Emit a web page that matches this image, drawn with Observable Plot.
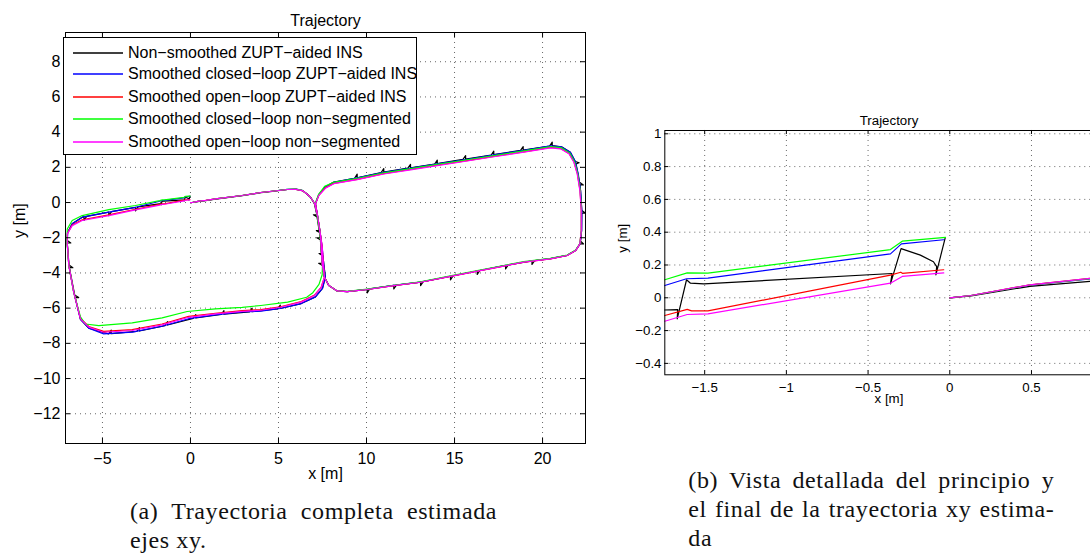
<!DOCTYPE html>
<html>
<head>
<meta charset="utf-8">
<script src="https://cdn.jsdelivr.net/npm/d3@7"></script>
<script src="https://cdn.jsdelivr.net/npm/@observablehq/plot@0.6"></script>
<style>
  html, body { margin: 0; padding: 0; background: #fff; overflow: hidden; width: 1090px; height: 553px; }
  #fig { position: relative; width: 1090px; height: 553px; overflow: hidden; }
  .panel { position: absolute; overflow: visible; }
  .panel svg { max-width: none !important; }
  .legend { position: absolute; left: 63px; top: 37px; width: 352px; height: 116px; border: 1px solid #000; background: #fff;
            font-family: "Liberation Sans", Arial, sans-serif; font-size: 16px; color: #000; }
  .legend .row { position: absolute; left: 0; height: 22px; line-height: 22px; white-space: nowrap; }
  .legend svg.sw { position: absolute; left: 9px; top: 7px; width: 50px; height: 8px; overflow: visible; }
  .legend .lb { position: absolute; left: 64px; top: 0; }
  .caption { position: absolute; font-family: "Liberation Serif", "Times New Roman", serif; font-size: 24px; letter-spacing: 0.6px; color: #111; }
  .caption .ln { height: 29px; line-height: 29px; white-space: nowrap; }
  .caption .full { text-align: justify; text-align-last: justify; }
</style>
</head>
<body>
<div id="fig"></div>
<script>
// Series names and colours (legend order = drawing order)
const seriesNames = [
  "Non\u2212smoothed ZUPT\u2212aided INS",
  "Smoothed closed\u2212loop ZUPT\u2212aided INS",
  "Smoothed open\u2212loop ZUPT\u2212aided INS",
  "Smoothed closed\u2212loop non\u2212segmented",
  "Smoothed open\u2212loop non\u2212segmented"
];
const seriesColors = ["#000000", "#0000ff", "#ff0000", "#00ff00", "#ff00ff"];

// Tick values of both panels
const fullXTicks = [-5, 0, 5, 10, 15, 20];
const fullYTicks = [8, 6, 4, 2, 0, -2, -4, -6, -8, -10, -12];
const detailXTicks = [-1.5, -1, -0.5, 0, 0.5];
const detailYTicks = [1, 0.8, 0.6, 0.4, 0.2, 0, -0.2, -0.4];

// Estimated xy trajectories [x, y] in metres, in walking order
const nonSmoothed = [[0,0],[0.13,0.012],[0.49,0.07],[0.86,0.1],[1.42,0.19],[2.94,0.39],[4.0,0.56],[4.64,0.63],[5.5,0.74],[6.0,0.75],[6.35,0.68],[6.6,0.5],[6.82,0.3],[7.04,-0.07],
  [7.18,-0.7],[6.98,-0.7],[7.19,-0.82],[7.37,-2.0],[7.17,-2.0],[7.38,-2.12],[7.48,-3.45],[7.28,-3.45],[7.5,-3.57],
  [7.6,-4.2],[7.86,-4.72],[8.33,-5.02],[8.9,-5.06],
  [10.04,-4.93],[10.04,-5.13],[10.18,-4.91],[11.55,-4.71],[11.55,-4.91],[11.7,-4.69],[13.07,-4.52],[13.07,-4.72],[13.22,-4.49],
  [14.77,-4.19],[14.77,-4.39],[14.92,-4.16],[16.29,-3.89],[16.29,-4.09],[16.44,-3.86],[17.9,-3.57],[17.9,-3.77],[18.05,-3.54],
  [19.4,-3.32],[19.4,-3.52],[19.55,-3.3],[20.45,-3.19],[21.4,-3.0],[21.88,-2.72],
  [22.13,-2.35],[22.33,-2.35],[22.16,-2.2],[22.22,-1.59],[22.23,-0.6],[22.43,-0.6],[22.23,-0.45],[22.16,0.68],
  [22.12,1.0],[22.32,1.0],[22.1,1.15],[21.9,2.2],[22.08,2.26],[21.86,2.33],[21.58,2.85],[21.08,3.17],
  [20.55,3.23],[20.55,3.43],[20.4,3.21],[18.9,2.98],[18.9,3.18],[18.75,2.96],[17.23,2.72],[17.23,2.92],[17.08,2.7],
  [15.63,2.47],[15.63,2.67],[15.48,2.45],[14.02,2.21],[14.02,2.41],[13.87,2.19],[12.5,1.97],[12.5,2.17],[12.35,1.95],
  [10.98,1.73],[10.98,1.93],[10.83,1.7],[9.47,1.41],[9.47,1.61],[9.32,1.38],
  [8.14,1.16],[7.67,0.9],[7.29,0.45],[7.1,-0.07],[7.2,-0.64],
  [7.35,-1.6],[7.15,-1.6],[7.37,-1.72],[7.5,-2.9],[7.3,-2.9],[7.52,-3.02],
  [7.66,-4.24],[7.5,-4.88],[7.1,-5.36],[6.29,-5.74],
  [5.1,-6.02],[5.1,-5.82],[4.95,-6.04],[3.5,-6.2],[3.5,-6.0],[3.35,-6.21],[1.9,-6.34],[1.9,-6.14],[1.75,-6.36],
  [0.3,-6.56],[0.3,-6.36],[0.15,-6.58],[-1.3,-6.96],[-1.3,-6.76],[-1.45,-6.99],[-2.9,-7.3],[-2.9,-7.1],[-3.05,-7.32],
  [-4.5,-7.45],[-4.5,-7.25],[-4.65,-7.46],[-5.78,-7.14],[-6.25,-6.64],
  [-6.55,-5.4],[-6.35,-5.4],[-6.58,-5.25],[-6.88,-3.7],[-6.68,-3.7],[-6.9,-3.55],[-7.0,-2.3],[-6.8,-2.3],[-7.0,-2.15],
  [-6.98,-1.72],[-6.72,-1.21],[-6.15,-0.83],
  [-6.05,-0.81],[-6.05,-1.01],[-5.9,-0.79],[-4.64,-0.55],[-4.64,-0.75],[-4.49,-0.52],[-3.125,-0.27],[-3.125,-0.47],[-2.98,-0.25],
  [-1.77,-0.075],[-1.665,-0.072],[-1.668,-0.128],[-1.611,0.11],[-1.587,0.089],[-1.505,0.085],[-0.353,0.148],[-0.363,0.085],[-0.298,0.3],
  [-0.18,0.26],[-0.1,0.22],[-0.08,0.19],[-0.085,0.14],[-0.028,0.365]];

const closedLoopZupt = [[0,0],[0.13,0.014],[0.49,0.077],[0.86,0.116],[1.42,0.21],[2.94,0.4],[4.0,0.57],[4.64,0.64],[5.5,0.75],[6.0,0.76],[6.35,0.69],[6.6,0.5],[6.82,0.3],[7.06,-0.07],
  [7.23,-0.83],[7.39,-1.97],[7.48,-3.48],[7.61,-4.24],[7.86,-4.72],[8.33,-5.02],[8.9,-5.06],[10.04,-4.93],[11.55,-4.71],[13.07,-4.52],[14.77,-4.19],
  [16.29,-3.89],[17.05,-3.74],[18.94,-3.38],[20.45,-3.19],[21.4,-3.0],[21.88,-2.72],[22.13,-2.35],[22.22,-1.59],[22.23,-0.45],[22.16,0.68],
  [22.03,1.63],[21.86,2.33],[21.58,2.85],[21.08,3.16],[20.45,3.22],[18.94,2.97],[17.23,2.71],[15.72,2.46],[14.02,2.2],[12.5,1.96],[10.98,1.72],
  [9.47,1.4],[8.14,1.15],[7.67,0.9],[7.29,0.45],[7.1,-0.07],[7.2,-0.64],[7.35,-1.59],[7.48,-2.5],[7.57,-3.5],[7.66,-4.24],[7.5,-4.88],[7.1,-5.36],
  [6.29,-5.74],[5.1,-6.02],[4.0,-6.17],[2.94,-6.22],[1.42,-6.38],[-0.1,-6.6],[-1.61,-7.03],[-3.31,-7.36],[-4.93,-7.46],[-5.78,-7.14],[-6.25,-6.64],
  [-6.63,-5.1],[-6.91,-3.58],[-7.0,-2.35],[-6.98,-1.72],[-6.72,-1.21],[-6.15,-0.83],[-4.64,-0.55],[-3.125,-0.27],
  [-1.744,0.075],[-1.611,0.116],[-1.48,0.12],[-0.363,0.268],[-0.296,0.329],[-0.037,0.354]];

const openLoopZupt = [[0,0],[0.13,0.014],[0.49,0.079],[0.86,0.118],[1.42,0.21],[2.94,0.4],[4.0,0.57],[4.64,0.64],[5.5,0.74],[6.0,0.75],[6.35,0.68],[6.6,0.5],[6.82,0.3],[7.06,-0.07],
  [7.23,-0.83],[7.39,-1.97],[7.48,-3.48],[7.61,-4.24],[7.86,-4.72],[8.33,-5.02],[8.9,-5.06],[10.04,-4.94],[11.55,-4.72],[13.07,-4.53],[14.77,-4.2],
  [16.29,-3.9],[17.05,-3.75],[18.94,-3.39],[20.45,-3.2],[21.4,-3.01],[21.88,-2.73],[22.12,-2.35],[22.2,-1.59],[22.2,-0.45],[22.13,0.68],
  [21.98,1.63],[21.79,2.3],[21.51,2.79],[21.03,3.07],[20.45,3.13],[18.94,2.88],[17.23,2.62],[15.72,2.38],[14.02,2.12],[12.5,1.88],[10.98,1.64],
  [9.47,1.32],[8.14,1.09],[7.67,0.84],[7.29,0.41],[7.1,-0.07],[7.2,-0.64],[7.35,-1.59],[7.48,-2.5],[7.55,-3.5],[7.61,-4.24],[7.43,-4.8],[7.05,-5.26],
  [6.29,-5.63],[5.1,-5.92],[4.0,-6.08],[2.94,-6.14],[1.42,-6.29],[-0.1,-6.47],[-1.61,-6.9],[-3.31,-7.22],[-4.93,-7.32],[-5.78,-7.04],[-6.25,-6.58],
  [-6.63,-5.1],[-6.91,-3.58],[-7.0,-2.35],[-6.99,-1.76],[-6.72,-1.28],[-6.15,-0.98],[-4.64,-0.7],[-3.125,-0.38],
  [-1.744,-0.108],[-1.607,-0.071],[-1.58,-0.08],[-1.48,-0.08],[-0.363,0.138],[-0.3,0.156],[-0.29,0.149],[-0.037,0.171]];

const closedLoopNonSeg = [[0,0],[0.13,0.014],[0.49,0.078],[0.86,0.117],[1.42,0.21],[2.94,0.4],[4.0,0.57],[4.64,0.64],[5.5,0.75],[6.0,0.76],[6.35,0.69],[6.6,0.5],[6.82,0.3],[7.06,-0.07],
  [7.23,-0.83],[7.39,-1.97],[7.48,-3.48],[7.61,-4.24],[7.86,-4.72],[8.33,-5.02],[8.9,-5.05],[10.04,-4.92],[11.55,-4.7],[13.07,-4.5],[14.77,-4.16],
  [16.29,-3.86],[17.05,-3.72],[18.94,-3.36],[20.45,-3.17],[21.4,-2.98],[21.88,-2.7],[22.12,-2.33],[22.2,-1.59],[22.21,-0.45],[22.14,0.68],
  [22.0,1.63],[21.82,2.31],[21.54,2.82],[21.05,3.12],[20.45,3.18],[18.94,2.93],[17.23,2.67],[15.72,2.43],[14.02,2.17],[12.5,1.93],[10.98,1.69],
  [9.47,1.38],[8.14,1.15],[7.62,0.92],[7.27,0.45],[7.08,-0.07],[7.18,-0.64],[7.32,-1.59],[7.44,-2.5],[7.5,-3.5],[7.48,-4.1],[7.3,-4.65],[6.95,-5.12],
  [6.6,-5.38],[5.52,-5.66],[4.0,-5.85],[2.94,-5.96],[1.42,-6.04],[-0.19,-6.19],[-1.61,-6.55],[-3.31,-6.84],[-5.21,-6.99],[-5.97,-6.9],[-6.25,-6.5],
  [-6.63,-5.1],[-6.91,-3.58],[-7.02,-2.2],[-7.0,-1.5],[-6.72,-1.02],[-6.15,-0.74],[-4.64,-0.4],[-3.125,-0.17],
  [-1.744,0.11],[-1.607,0.152],[-1.48,0.15],[-0.363,0.294],[-0.291,0.345],[-0.026,0.368]];

const openLoopNonSeg = [[0,0],[0.13,0.014],[0.49,0.079],[0.86,0.118],[1.42,0.21],[2.94,0.4],[4.0,0.57],[4.64,0.64],[5.5,0.74],[6.0,0.75],[6.35,0.68],[6.6,0.5],[6.82,0.3],[7.06,-0.07],
  [7.23,-0.83],[7.39,-1.97],[7.48,-3.48],[7.61,-4.24],[7.86,-4.72],[8.33,-5.02],[8.9,-5.06],[10.04,-4.94],[11.55,-4.72],[13.07,-4.53],[14.77,-4.2],
  [16.29,-3.9],[17.05,-3.75],[18.94,-3.39],[20.45,-3.2],[21.4,-3.01],[21.88,-2.73],[22.12,-2.35],[22.2,-1.59],[22.2,-0.45],[22.12,0.68],
  [21.97,1.63],[21.78,2.29],[21.5,2.77],[21.02,3.05],[20.45,3.11],[18.94,2.86],[17.23,2.6],[15.72,2.36],[14.02,2.1],[12.5,1.86],[10.98,1.62],
  [9.47,1.3],[8.14,1.07],[7.67,0.82],[7.29,0.4],[7.1,-0.07],[7.2,-0.64],[7.35,-1.59],[7.48,-2.5],[7.55,-3.5],[7.61,-4.24],[7.43,-4.81],[7.05,-5.28],
  [6.29,-5.66],[5.1,-5.95],[4.0,-6.12],[2.94,-6.18],[1.42,-6.33],[-0.1,-6.52],[-1.61,-6.95],[-3.31,-7.27],[-4.93,-7.37],[-5.78,-7.08],[-6.25,-6.61],
  [-6.63,-5.1],[-6.91,-3.58],[-7.0,-2.35],[-7.0,-1.78],[-6.72,-1.31],[-6.15,-1.02],[-4.64,-0.74],[-3.125,-0.42],
  [-1.744,-0.143],[-1.607,-0.102],[-1.48,-0.098],[-0.363,0.089],[-0.291,0.13],[-0.037,0.152]];

const allSeries = [nonSmoothed, closedLoopZupt, openLoopZupt, closedLoopNonSeg, openLoopNonSeg];

// MATLAB-style labels with a true minus sign
const fmt = d => (d < 0 ? "\u2212" : "") + Math.abs(d);

function trajectoryPanel(o) {
  const fw = o.width - o.marginLeft - o.marginRight;
  const fh = o.height - o.marginTop - o.marginBottom;
  const ink = {stroke: "#000", strokeWidth: 1};
  const lines = allSeries.map((pts, i) =>
    Plot.line(pts, {x: d => d[0], y: d => d[1], stroke: seriesColors[i], strokeWidth: 1.2, clip: true}));
  return Plot.plot({
    width: o.width, height: o.height,
    marginLeft: o.marginLeft, marginRight: o.marginRight, marginTop: o.marginTop, marginBottom: o.marginBottom,
    style: {fontFamily: "'Liberation Sans', Arial, sans-serif", fontSize: o.fontSize, color: "#000", background: "transparent", overflow: "visible"},
    x: {domain: o.xDomain, ticks: o.xTicks, tickFormat: fmt, tickSize: 0, tickPadding: o.xPad, label: null},
    y: {domain: o.yDomain, ticks: o.yTicks, tickFormat: fmt, tickSize: 0, tickPadding: o.yPad, label: null},
    marks: [
      // dotted grid
      Plot.ruleX(o.xTicks, {stroke: "#000", strokeOpacity: 0.6, strokeDasharray: "1,4"}),
      Plot.ruleY(o.yTicks, {stroke: "#000", strokeOpacity: 0.6, strokeDasharray: "1,4"}),
      ...lines,
      Plot.frame(ink),
      // inward tick marks on all four sides
      Plot.tickX(o.xTicks, {x: d => d, ...ink, insetTop: fh - o.tick}),
      Plot.tickX(o.xTicks, {x: d => d, ...ink, insetBottom: fh - o.tick}),
      Plot.tickY(o.yTicks, {y: d => d, ...ink, insetRight: fw - o.tick}),
      Plot.tickY(o.yTicks, {y: d => d, ...ink, insetLeft: fw - o.tick}),
      Plot.text(["Trajectory"], {text: d => d, frameAnchor: "top", dy: o.titleDy, fill: "#000"}),
      Plot.text(["x [m]"], {text: d => d, frameAnchor: "bottom", dy: o.xLabelDy, fill: "#000"}),
      Plot.text(["y [m]"], {text: d => d, frameAnchor: "left", dx: o.yLabelDx, rotate: -90, fill: "#000"})
    ]
  });
}

const fig = document.getElementById("fig");

function place(node, left, top, width, height) {
  const wrap = document.createElement("div");
  wrap.className = "panel";
  wrap.style.left = left + "px"; wrap.style.top = top + "px";
  wrap.style.width = width + "px"; wrap.style.height = height + "px";
  node.style.maxWidth = "none";
  wrap.appendChild(node);
  fig.appendChild(wrap);
}

// (a) complete trajectory
const full = trajectoryPanel({
  width: 600, height: 490, marginLeft: 65, marginRight: 15, marginTop: 32, marginBottom: 47,
  xDomain: [-7.1, 22.44], yDomain: [-13.69, 9.66], xTicks: fullXTicks, yTicks: fullYTicks,
  fontSize: "16px", xPad: 9.5, yPad: 5, tick: 5, titleDy: -18, xLabelDy: 35, yLabelDx: -46
});
place(full, 0, 0, 600, 490);

// legend of panel (a)
const SVGNS = "http://www.w3.org/2000/svg";
const legend = document.createElement("div");
legend.className = "legend";
const rowTops = [4, 25, 48, 70, 93];
seriesNames.forEach((name, i) => {
  const row = document.createElement("div");
  row.className = "row";
  row.style.top = rowTops[i] + "px";
  const sw = document.createElementNS(SVGNS, "svg");
  sw.setAttribute("class", "sw");
  sw.setAttribute("width", "50"); sw.setAttribute("height", "8");
  const ln = document.createElementNS(SVGNS, "line");
  ln.setAttribute("x1", "0"); ln.setAttribute("x2", "50");
  ln.setAttribute("y1", "4"); ln.setAttribute("y2", "4");
  ln.setAttribute("stroke", seriesColors[i]); ln.setAttribute("stroke-width", "1.3");
  sw.appendChild(ln);
  const lb = document.createElement("div");
  lb.className = "lb";
  lb.textContent = name;
  row.appendChild(sw); row.appendChild(lb);
  legend.appendChild(row);
});
fig.appendChild(legend);

// (b) detail of start and end of the trajectory
const detail = trajectoryPanel({
  width: 522.7, height: 314.3, marginLeft: 64.3, marginRight: 10, marginTop: 30, marginBottom: 40,
  xDomain: [-1.744, 1.0], yDomain: [-0.4695, 1.0201], xTicks: detailXTicks, yTicks: detailYTicks,
  fontSize: "13.3px", xPad: 7.6, yPad: 3.3, tick: 4, titleDy: -15, xLabelDy: 28.7, yLabelDx: -41.6
});
place(detail, 600, 100, 522.7, 314.3);

// sub-figure captions
const captions = [
  {left: 130, top: 497, width: 367, lines: ["(a) Trayectoria completa estimada", "ejes xy."]},
  {left: 688.3, top: 466, width: 366, lines: ["(b) Vista detallada del principio y", "el final de la trayectoria xy estima-", "da"]}
];
captions.forEach(c => {
  const box = document.createElement("div");
  box.className = "caption";
  box.style.left = c.left + "px"; box.style.top = c.top + "px"; box.style.width = c.width + "px";
  c.lines.forEach((t, i) => {
    const ln = document.createElement("div");
    ln.className = "ln" + (i < c.lines.length - 1 ? " full" : "");
    ln.textContent = t;
    box.appendChild(ln);
  });
  fig.appendChild(box);
});
</script>
</body>
</html>
